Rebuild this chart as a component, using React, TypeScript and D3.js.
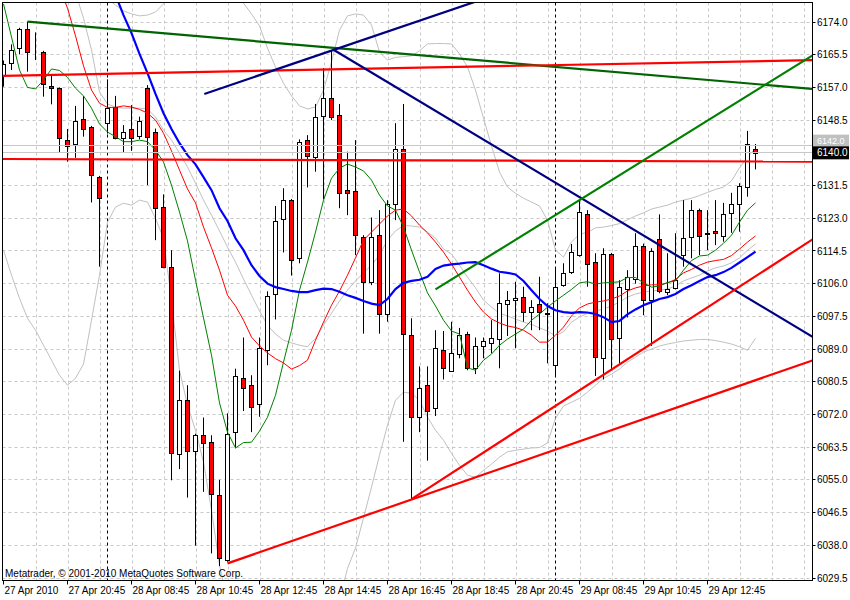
import React from "react";
import * as d3 from "d3";

// ---- Candles (M15 bars) ----
const opens = [
  6160.2, 6163.3, 6167.2, 6172.1, 6166.8, 6166.1, 6157.4, 6156.8, 6143.3, 6142.2,
  6148.8, 6146.8, 6133.6, 6147.7, 6152.0, 6143.8, 6146.1, 6144.4, 6156.8, 6145.5,
  6126.0, 6110.4, 6061.7, 6075.7, 6062.6, 6066.6, 6064.9, 6051.0, 6034.1, 6067.4,
  6081.6, 6079.6, 6074.6, 6088.7, 6103.3, 6122.7, 6127.7, 6112.6, 6143.3, 6139.0,
  6149.6, 6154.2, 6149.8, 6130.3, 6130.1, 6118.0, 6106.5, 6118.6, 6098.1, 6126.7,
  6141.1, 6092.6, 6071.4, 6079.6, 6073.6, 6088.7, 6083.4, 6087.7, 6093.0, 6084.0,
  6089.8, 6090.5, 6091.5, 6100.6, 6101.7, 6102.6, 6098.6, 6100.7, 6098.5, 6084.8,
  6105.6, 6109.1, 6113.4, 6124.0, 6111.5, 6086.6, 6113.7, 6092.0, 6104.5, 6107.1,
  6115.8, 6101.7, 6117.7, 6103.7, 6104.9, 6113.4, 6118.0, 6125.1, 6119.2, 6119.7,
  6118.4, 6124.4, 6126.6, 6131.0, 6141.1,
];
const highs = [
  6164.0, 6168.2, 6172.5, 6174.1, 6171.3, 6166.5, 6160.0, 6157.0, 6146.2, 6152.2,
  6154.8, 6147.0, 6134.0, 6159.1, 6154.8, 6147.2, 6152.4, 6149.4, 6157.6, 6146.3,
  6129.2, 6114.7, 6083.4, 6079.6, 6067.0, 6071.2, 6066.6, 6055.0, 6072.3, 6083.9,
  6092.0, 6082.2, 6092.0, 6104.0, 6126.2, 6130.8, 6128.0, 6143.5, 6144.6, 6152.7,
  6162.0, 6166.7, 6152.7, 6140.3, 6143.3, 6118.6, 6123.2, 6125.1, 6127.7, 6147.7,
  6152.7, 6097.0, 6084.5, 6084.5, 6093.9, 6093.7, 6096.1, 6094.5, 6093.5, 6092.0,
  6092.0, 6096.5, 6108.7, 6104.1, 6106.5, 6105.2, 6101.7, 6107.8, 6100.9, 6110.0,
  6111.3, 6116.3, 6127.7, 6125.1, 6113.9, 6115.2, 6114.0, 6106.9, 6109.5, 6119.1,
  6116.4, 6115.2, 6124.0, 6113.9, 6119.1, 6127.7, 6127.7, 6125.5, 6125.1, 6127.7,
  6127.0, 6129.6, 6132.1, 6145.7, 6142.3,
];
const lows = [
  6157.2, 6161.5, 6165.6, 6161.1, 6164.1, 6154.6, 6152.6, 6140.1, 6137.7, 6138.7,
  6144.2, 6127.1, 6110.4, 6145.0, 6143.5, 6140.1, 6140.5, 6143.5, 6131.6, 6117.3,
  6110.0, 6054.9, 6057.8, 6050.4, 6037.9, 6051.9, 6035.9, 6032.6, 6033.7, 6063.2,
  6072.9, 6067.4, 6071.4, 6084.8, 6096.7, 6114.1, 6108.1, 6111.3, 6131.0, 6135.1,
  6127.9, 6148.5, 6125.6, 6123.8, 6113.4, 6093.0, 6105.6, 6093.0, 6096.1, 6122.5,
  6064.9, 6049.8, 6067.4, 6060.0, 6071.6, 6081.1, 6083.1, 6086.6, 6083.5, 6082.5,
  6086.6, 6087.9, 6084.0, 6092.4, 6089.2, 6096.1, 6093.9, 6093.9, 6085.3, 6081.8,
  6105.2, 6108.5, 6113.0, 6105.2, 6082.0, 6081.1, 6083.4, 6085.3, 6097.2, 6106.0,
  6097.8, 6089.8, 6103.5, 6103.0, 6104.5, 6110.4, 6112.6, 6113.4, 6114.7, 6116.0,
  6116.9, 6119.2, 6119.5, 6128.6, 6135.7,
];
const closes = [
  6163.0, 6166.7, 6172.1, 6166.1, 6166.6, 6157.8, 6156.8, 6143.8, 6141.8, 6148.3,
  6146.1, 6134.2, 6128.2, 6151.6, 6143.8, 6145.5, 6143.8, 6148.3, 6144.2, 6125.6,
  6110.4, 6061.9, 6075.7, 6062.6, 6066.6, 6064.5, 6051.4, 6034.6, 6067.0, 6082.0,
  6079.0, 6074.0, 6089.2, 6102.8, 6122.3, 6127.7, 6112.1, 6142.7, 6139.2, 6149.2,
  6154.2, 6149.2, 6129.6, 6129.6, 6118.6, 6106.5, 6118.0, 6098.1, 6126.7, 6141.1,
  6093.0, 6071.4, 6079.0, 6072.9, 6089.2, 6084.0, 6088.1, 6092.6, 6084.0, 6089.8,
  6091.0, 6092.0, 6101.1, 6101.7, 6102.2, 6098.7, 6100.0, 6098.6, 6098.1, 6105.1,
  6108.7, 6114.1, 6124.5, 6111.0, 6087.0, 6113.7, 6091.5, 6105.1, 6107.6, 6115.8,
  6101.7, 6114.6, 6104.1, 6104.6, 6106.9, 6117.9, 6125.1, 6118.4, 6119.0, 6119.1,
  6124.0, 6126.6, 6131.4, 6142.3, 6140.0,
];

// ---- Indicator lines, one value per bar (null = off the chart) ----
const maFast = [
  6178.7, 6170.1, 6161.5, 6157.0, 6156.6, 6158.9, 6161.8, 6161.4, 6159.6, 6156.8,
  6154.8, 6151.6, 6147.5, 6145.4, 6144.2, 6142.9, 6142.9, 6143.3, 6142.9, 6140.7,
  6137.6, 6131.6, 6124.6, 6117.1, 6106.9, 6097.1, 6087.4, 6075.0, 6067.4, 6063.3,
  6064.7, 6064.8, 6067.7, 6071.3, 6077.0, 6085.6, 6093.9, 6104.3, 6111.6, 6119.4,
  6127.7, 6133.4, 6136.0, 6137.1, 6136.3, 6135.3, 6132.9, 6129.0, 6126.2, 6125.1,
  6120.7, 6114.7, 6109.0, 6103.6, 6100.2, 6096.5, 6093.7, 6092.9, 6084.1, 6083.5,
  6086.1, 6087.7, 6090.0, 6091.6, 6092.9, 6094.2, 6096.5, 6098.1, 6099.9, 6101.5,
  6103.0, 6104.5, 6106.2, 6106.5, 6105.9, 6106.2, 6106.3, 6106.5, 6107.6, 6107.6,
  6106.2, 6105.1, 6105.4, 6106.3, 6106.7, 6109.5, 6112.0, 6113.2, 6113.4, 6114.7,
  6116.5, 6118.6, 6122.0, 6125.1, 6127.0,
];
const maMid = [
  null, null, null, null, null, null, null, 6183.0, 6177.6, 6170.4,
  6162.6, 6156.3, 6152.9, 6151.8, 6151.8, 6152.2, 6151.9, 6151.3, 6150.3, 6148.5,
  6145.1, 6140.5, 6135.5, 6130.6, 6127.0, 6120.7, 6115.3, 6109.5, 6103.0, 6100.2,
  6096.5, 6092.1, 6089.8, 6088.0, 6086.5, 6085.4, 6083.8, 6084.7, 6086.1, 6091.3,
  6096.0, 6100.4, 6104.1, 6108.2, 6112.7, 6117.3, 6119.4, 6121.5, 6123.6, 6125.1,
  6125.4, 6123.6, 6121.2, 6119.2, 6116.8, 6114.2, 6111.1, 6107.7, 6104.3, 6101.2,
  6098.6, 6096.8, 6095.8, 6095.0, 6094.6, 6093.9, 6092.6, 6090.8, 6090.8, 6092.6,
  6094.7, 6097.6, 6099.7, 6100.7, 6101.2, 6101.5, 6102.0, 6102.8, 6104.1, 6104.9,
  6105.4, 6105.7, 6105.7, 6106.2, 6107.1, 6108.8, 6109.7, 6110.8, 6111.6, 6112.0,
  6112.3, 6113.3, 6115.0, 6116.8, 6118.4,
];
const maSlow = [
  null, null, null, null, null, null, null, null, null, null,
  null, null, null, 6185.7, 6181.0, 6175.8, 6171.1, 6165.7, 6160.7, 6155.3,
  6150.3, 6146.2, 6142.5, 6139.4, 6137.0, 6133.7, 6130.3, 6125.6, 6122.3, 6117.8,
  6114.7, 6110.8, 6108.0, 6106.0, 6105.1, 6104.6, 6104.1, 6103.8, 6103.8, 6104.3,
  6104.7, 6104.6, 6103.9, 6103.0, 6102.3, 6101.5, 6100.8, 6100.4, 6102.0, 6104.6,
  6106.2, 6106.7, 6107.0, 6107.8, 6109.8, 6110.7, 6111.0, 6111.2, 6111.5, 6111.6,
  6110.8, 6109.9, 6109.1, 6108.8, 6108.4, 6106.7, 6104.3, 6102.0, 6100.2, 6099.1,
  6098.6, 6098.4, 6098.6, 6098.5, 6098.1, 6097.3, 6096.0, 6096.3, 6098.0, 6099.3,
  6100.4, 6101.2, 6102.0, 6102.5, 6103.3, 6104.6, 6105.6, 6106.7, 6107.7, 6108.2,
  6109.0, 6110.1, 6111.5, 6112.9, 6114.3,
];
const bbUpper = [
  null, null, null, null, null, null, null, null, null, null,
  null, null, null, 6180.0, 6178.4, 6176.9, 6176.1, 6175.6, 6175.8, 6176.6,
  6178.7, 6182.2, null, null, null, null, null, null, null, 6182.2,
  6178.9, 6176.1, 6173.0, 6167.2, 6162.3, 6158.1, 6154.8, 6152.2, 6151.4, 6151.9,
  6156.3, 6163.6, 6171.9, 6175.6, 6176.1, 6175.8, 6173.2, 6166.2, 6164.1, 6164.8,
  6165.0, 6165.2, 6166.5, 6168.3, 6168.4, 6168.4, 6168.3, 6165.7, 6162.3, 6156.3,
  6149.0, 6141.8, 6135.0, 6131.1, 6129.5, 6128.2, 6127.2, 6126.2, 6122.5, 6114.7,
  6112.9, 6116.8, 6118.9, 6119.3, 6120.5, 6120.7, 6121.1, 6121.6, 6122.6, 6123.6,
  6124.4, 6125.4, 6125.9, 6126.4, 6127.2, 6127.7, 6128.2, 6128.9, 6129.7, 6130.5,
  6131.1, 6132.7, 6136.1, 6138.9, 6141.2,
];
const bbMiddle = [
  null, null, null, null, null, null, null, null, null, 6181.6,
  6175.0, 6166.7, 6155.8, 6152.7, 6151.9, 6151.6, 6151.6, 6151.6, 6151.4, 6149.3,
  6145.9, 6143.3, 6139.9, 6136.3, 6132.1, 6127.7, 6123.8, 6119.7, 6115.5, 6111.6,
  6107.2, 6103.0, 6098.9, 6095.2, 6092.9, 6091.3, 6090.6, 6090.0, 6089.6, 6091.8,
  6095.2, 6098.3, 6101.5, 6104.3, 6106.7, 6108.8, 6110.8, 6113.4, 6117.3, 6119.7,
  6121.1, 6121.0, 6120.7, 6119.4, 6117.8, 6115.0, 6113.7, 6110.8, 6107.7, 6104.9,
  6101.7, 6099.9, 6098.3, 6097.6, 6096.8, 6096.0, 6095.4, 6094.5, 6093.7, 6092.4,
  6093.5, 6096.0, 6097.3, 6098.3, 6098.9, 6099.4, 6100.2, 6101.2, 6102.5, 6103.3,
  6103.8, 6104.1, 6104.3, 6104.6, 6105.4, 6106.7, 6107.5, 6108.2, 6109.3, 6110.1,
  6110.6, 6111.4, 6112.7, 6114.7, 6116.3,
];
const bbLower = [
  6114.7, 6108.2, 6102.2, 6097.0, 6093.9, 6090.0, 6086.1, 6082.2, 6079.6, 6081.4,
  6085.1, 6096.5, 6108.2, 6122.0, 6125.9, 6126.9, 6126.4, 6127.7, 6127.2, 6123.0,
  6117.8, 6101.7, 6083.5, 6074.4, 6067.9, 6059.6, 6047.1, 6032.8, 6023.7, null,
  null, null, null, null, null, null, null, null, null, null,
  null, null, 6023.7, 6032.0, 6037.3, 6045.1, 6053.1, 6061.4, 6069.2, 6075.7,
  6077.8, 6077.5, 6075.7, 6071.3, 6067.9, 6065.3, 6061.9, 6058.8, 6056.2, 6055.7,
  6057.5, 6059.1, 6060.9, 6062.3, 6062.7, 6063.0, 6063.3, 6063.4, 6064.6, 6071.0,
  6074.2, 6075.2, 6076.2, 6077.8, 6079.6, 6081.4, 6082.5, 6083.8, 6085.6, 6086.9,
  6088.2, 6089.0, 6089.8, 6090.3, 6090.7, 6091.1, 6091.3, 6091.5, 6091.5, 6091.2,
  6090.8, 6090.3, 6089.6, 6088.7, 6091.8,
];

// ---- Drawn objects: [bar, price] anchors ----
const trendGreenTop = [[3, 6174.1], [101.2, 6156.6]];
const trendRedTop = [[-0.5, 6160.0], [101.2, 6164.1]];
const trendRedMid = [[-0.5, 6138.4], [101.2, 6137.7]];
const trendNavyUp = [[25.1, 6155.3], [60, 6180.0]];
const trendNavyDown = [[41.25, 6166.8], [101.2, 6092.1]];
const trendGreenRise = [[54, 6104.5], [101.2, 6165.4]];
const trendRedLow = [[28, 6033.3], [101.2, 6086.1]];
const trendRedHigh = [[51, 6050.0], [101.2, 6117.6]];

const bidPrice = 6140.0;
const askPrice = 6142.0;

// ---- Axes ----
const priceTicks = [
  "6174.0", "6165.5", "6157.0", "6148.5", "6140.0", "6131.5", "6123.0", "6114.5", "6106.0",
  "6097.5", "6089.0", "6080.5", "6072.0", "6063.5", "6055.0", "6046.5", "6038.0", "6029.5",
];
const timeLabels = [
  "27 Apr 2010", "27 Apr 20:45", "28 Apr 08:45", "28 Apr 10:45", "28 Apr 12:45", "28 Apr 14:45",
  "28 Apr 16:45", "28 Apr 18:45", "28 Apr 20:45", "29 Apr 08:45", "29 Apr 10:45", "29 Apr 12:45",
];
const timeLabelBars = [0, 8, 16, 24, 32, 40, 48, 56, 64, 72, 80, 88];
const gridBars = [4, 8, 12, 16, 20, 24, 28, 32, 36, 40, 44, 48, 52, 56, 60, 64, 68, 72, 76, 80, 84, 88, 92, 96, 100];
const daySeparatorBars = [13, 69];
const copyright = "Metatrader, \u00A9 2001-2010 MetaQuotes Software Corp.";

const FONT = "'Liberation Sans', Arial, sans-serif";

export default function App() {
  const x = d3.scaleLinear().domain([0, 94]).range([3.5, 755.5]);
  const y = d3.scaleLinear().domain([6029.5, 6174.0]).range([578, 22]);
  const px = (v: number) => Math.round(v - 0.5) + 0.5;

  const seriesLine = (vals: (number | null)[]) =>
    d3
      .line<number | null>()
      .defined((v) => v != null)
      .x((_, i) => x(i))
      .y((v) => y(v as number))(vals) || "";

  const anchorLine = (pts: number[][]) =>
    d3
      .line<number[]>()
      .x((p) => x(p[0]))
      .y((p) => y(p[1]))(pts) || "";

  const PL = 2.5, PT = 2.5, PR = 812.5, PB = 580.5;

  const trends: { pts: number[][]; color: string }[] = [
    { pts: trendGreenTop, color: "#006400" },
    { pts: trendRedTop, color: "#ff0000" },
    { pts: trendRedMid, color: "#ff0000" },
    { pts: trendNavyUp, color: "#000080" },
    { pts: trendNavyDown, color: "#000080" },
    { pts: trendGreenRise, color: "#008000" },
    { pts: trendRedLow, color: "#ff0000" },
    { pts: trendRedHigh, color: "#ff0000" },
  ];

  const bidLabel = bidPrice.toFixed(1);
  const yBid = y(bidPrice);
  const yAskLabel = y(askPrice) - 4.5;

  return (
    <svg
      width={850}
      height={600}
      style={{ position: "absolute", left: 0, top: 0, background: "#fff" }}
      fontFamily={FONT}
    >
      <defs>
        <clipPath id="plotClip">
          <rect x={3} y={3} width={809} height={577} />
        </clipPath>
      </defs>
      <rect x={0} y={0} width={850} height={600} fill="#ffffff" />
      <g clipPath="url(#plotClip)">
        {/* grid */}
        {priceTicks.map((t) => (
          <line
            key={"hg" + t}
            x1={PL}
            x2={PR}
            y1={px(y(+t))}
            y2={px(y(+t))}
            stroke="#c8c8c8"
            strokeDasharray="3,3"
          />
        ))}
        {gridBars.map((b) => (
          <line
            key={"vg" + b}
            x1={x(b) + 1}
            x2={x(b) + 1}
            y1={PT}
            y2={PB}
            stroke="#c8c8c8"
            strokeDasharray="3,3"
          />
        ))}
        {daySeparatorBars.map((b) => (
          <line
            key={"ds" + b}
            x1={x(b)}
            x2={x(b)}
            y1={PT}
            y2={PB}
            stroke="#000000"
            strokeDasharray="3,3"
          />
        ))}

        {/* Bollinger bands */}
        {[bbUpper, bbMiddle, bbLower].map((s, k) => (
          <path key={"bb" + k} d={seriesLine(s)} fill="none" stroke="#c0c0c0" strokeWidth={1} />
        ))}

        {/* candles */}
        {opens.map((o, i) => {
          const c = closes[i];
          const cx = x(i);
          const top = Math.round(y(Math.max(o, c)));
          const bot = Math.round(y(Math.min(o, c)));
          const bull = c >= o;
          return (
            <g key={"c" + i}>
              <line x1={cx} x2={cx} y1={y(highs[i])} y2={y(lows[i])} stroke="#000" strokeWidth={1} />
              <rect
                x={cx - 2}
                y={top + 0.5}
                width={4}
                height={Math.max(bot - top, 0)}
                fill={bull ? "#ffffff" : "#ff0000"}
                stroke="#000"
                strokeWidth={1}
              />
            </g>
          );
        })}

        {/* moving averages */}
        <path d={seriesLine(maMid)} fill="none" stroke="#ff0000" strokeWidth={1} />
        <path d={seriesLine(maFast)} fill="none" stroke="#008000" strokeWidth={1} />
        <path d={seriesLine(maSlow)} fill="none" stroke="#0000ff" strokeWidth={2.2} />

        {/* bid / ask lines */}
        <line x1={PL} x2={PR} y1={px(y(askPrice))} y2={px(y(askPrice))} stroke="#c8c8c8" />
        <line x1={PL} x2={PR} y1={px(y(bidPrice))} y2={px(y(bidPrice))} stroke="#c8c8c8" />

        {/* drawn trend lines */}
        {trends.map((t, k) => (
          <path key={"t" + k} d={anchorLine(t.pts)} fill="none" stroke={t.color} strokeWidth={2.2} />
        ))}
      </g>

      {/* frame */}
      <rect x={PL} y={PT} width={PR - PL} height={PB - PT} fill="none" stroke="#000" strokeWidth={1} />

      <text x={5} y={577} fontSize={10} fill="#000">
        {copyright}
      </text>

      {/* price axis */}
      {priceTicks.map((t) => (
        <g key={"pt" + t}>
          <line x1={PR} x2={PR + 3} y1={px(y(+t))} y2={px(y(+t))} stroke="#000" />
          {t !== bidLabel && (
            <text x={817} y={y(+t)} dy="0.36em" fontSize={10} fill="#000">
              {t}
            </text>
          )}
        </g>
      ))}
      <rect x={813} y={yAskLabel - 6} width={36} height={12} fill="#c0c0c0" />
      <text x={817} y={yAskLabel} dy="0.34em" fontSize={9} fill="#ffffff">
        {askPrice.toFixed(1)}
      </text>
      <rect x={813} y={yBid - 6.5} width={36} height={13} fill="#000000" />
      <text x={817} y={yBid} dy="0.36em" fontSize={10} fill="#ffffff">
        {bidLabel}
      </text>

      {/* time axis */}
      {timeLabels.map((lab, k) => {
        const xb = x(timeLabelBars[k]);
        return (
          <g key={"tl" + k}>
            <line x1={xb} x2={xb} y1={PB} y2={PB + 4} stroke="#000" />
            <text x={xb + 1} y={594} fontSize={10} fill="#000">
              {lab}
            </text>
          </g>
        );
      })}
    </svg>
  );
}
